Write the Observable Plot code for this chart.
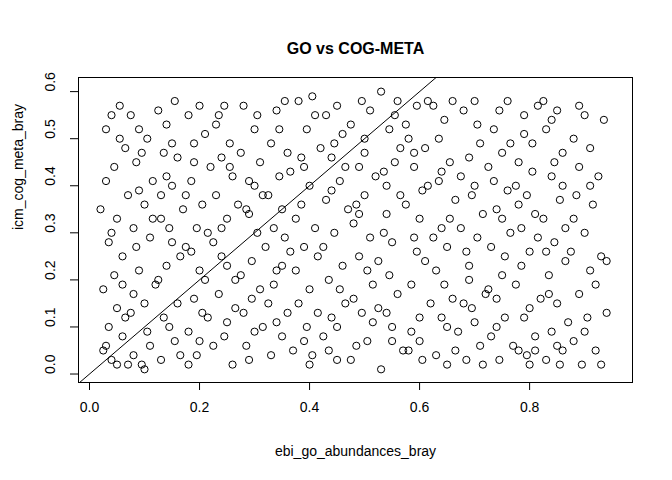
<!DOCTYPE html>
<html><head><meta charset="utf-8">
<script src="https://cdn.jsdelivr.net/npm/d3@7"></script>
<script src="https://cdn.jsdelivr.net/npm/@observablehq/plot@0.6"></script>
<style>body{margin:0;background:#fff;font-family:"Liberation Sans",Arial,sans-serif}</style>
</head><body><div id="chart"></div>
<script>
const title = "GO vs COG-META";
const xLabel = "ebi_go_abundances_bray";
const yLabel = "icm_cog_meta_bray";
const xTicks = [0, 0.2, 0.4, 0.6, 0.8];
const yTicks = [0, 0.1, 0.2, 0.3, 0.4, 0.5, 0.6];
const goAbund = [
.02,.025,.03,.03,.035,.04,.04,.045,.05,.05,.055,.06,.06,.065,.07,.07,.03,.045,.055,.065,.025,.04,.05,.06,.035,
.075,.08,.08,.085,.09,.09,.095,.10,.10,.105,.11,.11,.115,.12,.075,.085,.095,.105,.115,.09,.10,.08,
.125,.13,.13,.135,.14,.14,.145,.15,.15,.155,.16,.16,.165,.17,.125,.135,.145,.155,.165,.14,.15,.13,
.175,.18,.18,.185,.19,.19,.195,.20,.20,.205,.21,.21,.215,.22,.175,.185,.195,.205,.215,.18,.20,.19,
.225,.23,.23,.235,.24,.24,.245,.25,.25,.255,.26,.26,.265,.27,.225,.235,.245,.255,.265,.24,.25,
.275,.28,.28,.285,.29,.29,.295,.30,.30,.305,.31,.31,.315,.32,.275,.285,.295,.305,.315,.30,.29,
.325,.33,.33,.335,.34,.34,.345,.35,.35,.355,.36,.36,.365,.37,.325,.335,.345,.355,.365,.34,.35,
.375,.38,.38,.385,.39,.39,.395,.40,.40,.405,.41,.41,.415,.42,.375,.385,.395,.405,.415,.39,.40,
.425,.43,.43,.435,.44,.44,.445,.45,.45,.455,.46,.46,.465,.47,.425,.435,.445,.455,.465,.44,.45,
.475,.48,.48,.485,.49,.49,.495,.50,.50,.505,.51,.51,.515,.52,.475,.485,.495,.505,.515,.50,.49,
.525,.53,.53,.535,.54,.54,.545,.55,.55,.555,.56,.56,.565,.57,.525,.535,.545,.555,.565,.54,.55,
.575,.58,.58,.585,.59,.59,.595,.60,.60,.605,.61,.61,.615,.62,.575,.585,.595,.605,.615,.59,.60,
.625,.63,.63,.635,.64,.64,.645,.65,.65,.655,.66,.66,.665,.67,.625,.635,.645,.655,.665,.64,.65,
.675,.68,.68,.685,.69,.69,.695,.70,.70,.705,.71,.71,.715,.72,.675,.685,.695,.705,.715,.70,.69,
.725,.73,.73,.735,.74,.74,.745,.75,.75,.755,.76,.76,.765,.77,.725,.735,.745,.755,.765,.74,.75,
.775,.78,.78,.785,.79,.79,.795,.80,.80,.805,.81,.81,.815,.82,.775,.785,.795,.805,.815,.80,.79,.81,.78,
.825,.83,.83,.835,.84,.84,.845,.85,.85,.855,.86,.86,.865,.87,.825,.835,.845,.855,.865,.84,.85,.83,.86,
.875,.88,.88,.885,.89,.89,.895,.90,.90,.905,.91,.91,.915,.92,.925,.93,.935,.94,.88,.90,.92,.93,.94,.89,.91
];
const cogMeta = [
.35,.18,.52,.06,.28,.55,.03,.44,.14,.33,.57,.08,.25,.48,.02,.38,.41,.21,.50,.12,.05,.30,.02,.19,.10,
.55,.31,.04,.45,.22,.52,.02,.36,.15,.50,.29,.06,.41,.19,.13,.27,.47,.09,.33,.39,.01,.17,
.56,.33,.03,.47,.23,.53,.10,.40,.28,.58,.15,.46,.04,.35,.20,.12,.31,.07,.25,.42,.49,.38,
.27,.55,.02,.41,.16,.49,.31,.57,.07,.36,.20,.51,.12,.44,.38,.26,.04,.13,.30,.09,.22,.45,
.06,.38,.53,.17,.46,.25,.57,.11,.33,.49,.02,.42,.20,.36,.28,.55,.08,.44,.14,.31,.23,
.47,.13,.57,.35,.03,.41,.24,.52,.09,.30,.45,.18,.38,.27,.21,.06,.16,.55,.10,.40,.34,
.15,.49,.04,.31,.56,.22,.42,.08,.35,.58,.13,.47,.26,.05,.38,.19,.52,.29,.43,.11,.23,
.33,.15,.58,.46,.07,.27,.52,.18,.40,.04,.31,.55,.13,.48,.22,.36,.10,.59,.25,.44,.02,
.08,.37,.55,.20,.46,.12,.30,.57,.03,.41,.23,.51,.15,.35,.27,.05,.49,.18,.44,.39,.10,
.53,.16,.32,.06,.44,.25,.13,.50,.38,.07,.29,.56,.19,.42,.03,.36,.58,.22,.11,.47,.34,
.24,.60,.01,.43,.13,.34,.52,.07,.28,.45,.17,.58,.38,.05,.14,.30,.21,.55,.48,.40,.10,
.36,.05,.50,.19,.44,.29,.57,.12,.33,.03,.48,.24,.40,.15,.53,.09,.26,.39,.58,.47,.07,
.57,.22,.04,.41,.12,.31,.54,.02,.27,.45,.16,.58,.37,.09,.29,.50,.19,.33,.05,.43,.10,
.31,.56,.15,.03,.46,.23,.38,.58,.11,.29,.49,.06,.34,.17,.42,.26,.14,.53,.02,.40,.20,
.44,.08,.27,.52,.16,.35,.03,.47,.21,.12,.39,.58,.30,.06,.18,.41,.56,.25,.49,.10,.33,
.19,.45,.05,.31,.55,.12,.38,.02,.26,.49,.08,.34,.57,.16,.40,.23,.04,.43,.29,.14,.51,.05,.36,
.33,.03,.52,.21,.42,.09,.28,.56,.15,.37,.05,.47,.24,.11,.58,.17,.45,.02,.31,.54,.06,.26,.40,
.26,.50,.07,.38,.17,.44,.02,.30,.55,.12,.22,.48,.36,.05,.42,.25,.54,.13,.33,.09,.19,.02,.24,.57,.40
];
const n = Math.min(goAbund.length, cogMeta.length);
const pts = d3.range(n).map(i => ({x: goAbund[i], y: cogMeta[i]}));
const refLine = [{x: -0.1, y: -0.1}, {x: 1, y: 1}];
const font = "Liberation Sans, Arial, sans-serif";
const chart = Plot.plot({
  width: 672, height: 480,
  marginLeft: 78, marginRight: 40, marginTop: 77, marginBottom: 98,
  style: {fontFamily: font, fontSize: "14px", color: "#000", background: "#fff"},
  x: {domain: [-0.02, 0.987]},
  y: {domain: [-0.018, 0.63]},
  marks: [
    Plot.frame({stroke: "#000", strokeWidth: 1}),
    Plot.axisX({ticks: xTicks, tickSize: 8, tickPadding: 12, tickFormat: d3.format(".1f"), label: null, fontSize: 14}),
    Plot.axisY({ticks: yTicks, tickSize: 8, tickFormat: () => "", label: null}),
    Plot.text(yTicks, {y: d => d, text: d => d.toFixed(1), frameAnchor: "left", dx: -28, rotate: -90, fontSize: 14}),
    Plot.line(refLine, {x: "x", y: "y", stroke: "#000", strokeWidth: 1, clip: true}),
    Plot.dot(pts, {x: "x", y: "y", r: 3.6, stroke: "#000", fill: "none", strokeWidth: 1}),
    Plot.text([title], {text: d => d, frameAnchor: "top", dy: -35, fontWeight: "bold", fontSize: 16}),
    Plot.text([xLabel], {text: d => d, frameAnchor: "bottom", dy: 73, fontSize: 14}),
    Plot.text([yLabel], {text: d => d, frameAnchor: "left", dx: -60, rotate: -90, fontSize: 14})
  ]
});
document.getElementById("chart").append(chart);
</script></body></html>
